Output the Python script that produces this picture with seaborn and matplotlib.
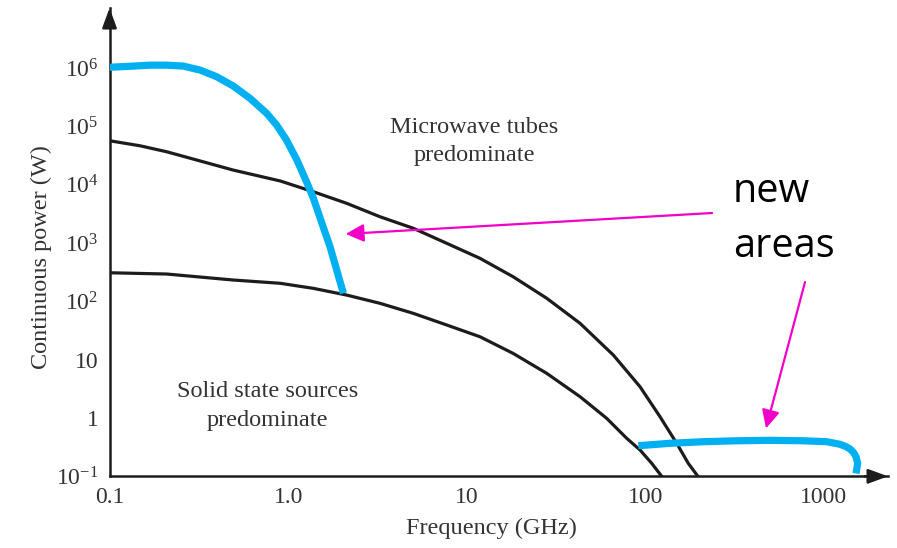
import matplotlib
matplotlib.use("Agg")
import matplotlib.pyplot as plt
import seaborn as sns

# ---- curves (frequency in GHz, power in W) ----
tube_freq = [0.1, 0.148, 0.209, 0.493, 0.902, 1.384, 2.129, 3.27, 5.02, 7.73, 11.87, 18.2,
             28.05, 43.1, 66.2, 93.4, 120.9, 149.9, 174, 197]
tube_power = [5.67e4, 4.65e4, 3.67e4, 1.78e4, 1.16e4, 7.57e3, 4.79e3, 2.82e3, 1.79e3, 988, 546, 264,
              113, 42, 12.0, 3.44, 1.05, 0.368, 0.167, 0.1]

solid_freq = [0.1, 0.209, 0.493, 0.902, 1.384, 2.129, 3.27, 5.02, 7.73, 11.87, 18.2, 28.05,
              43.1, 60.8, 78.7, 93.4, 108.6, 123.6]
solid_power = [309, 294, 232, 204, 167, 128, 92.5, 62.3, 39.3, 24.7, 12.8, 5.83,
               2.32, 0.986, 0.448, 0.283, 0.167, 0.1]

# new area, low frequency / high power
new_low_freq = [0.1, 0.136, 0.169, 0.209, 0.259, 0.321, 0.398, 0.493, 0.612, 0.759,
                0.863, 0.98, 1.12, 1.27, 1.384, 1.57, 1.717, 1.871, 2.04]
new_low_power = [1.03e6, 1.08e6, 1.12e6, 1.12e6, 1.08e6, 9.24e5, 7.1e5, 4.91e5, 3.02e5, 1.67e5,
                 1.05e5, 5.8e4, 2.65e4, 1.11e4, 5.9e3, 1.9e3, 863, 344, 137]

# new area, THz region
new_high_freq = [91.4, 137.5, 211, 325, 499, 767, 1037, 1230, 1318, 1400, 1462, 1513, 1546, 1513]
new_high_power = [0.335, 0.368, 0.392, 0.407, 0.414, 0.407, 0.392, 0.354, 0.327, 0.294, 0.258,
                  0.217, 0.167, 0.112]

x_ticks = [0.1, 1, 10, 100, 1000]
x_tick_labels = ["0.1", "1.0", "10", "100", "1000"]
y_ticks = [0.1, 1, 10, 1e2, 1e3, 1e4, 1e5, 1e6]
y_tick_labels = ["$10^{-1}$", "1", "10", "$10^{2}$", "$10^{3}$", "$10^{4}$", "$10^{5}$", "$10^{6}$"]

# region captions: text, x centre, baseline y
region_text = ["Microwave tubes", "predominate", "Solid state sources", "predominate"]
region_x = [11.0, 11.0, 0.767, 0.767]
region_y = [7.59e4, 2.58e4, 2.32, 0.737]

# "new areas" note and its arrows (tail -> head)
note_text = ["new", "areas"]
note_x = [310, 310]
note_y = [5.1e3, 568]
arrow_tail = [(236.5, 3.27e3), (784, 214)]
arrow_head = [(2.10, 1.43e3), (474, 0.665)]

sns.set_style("white")
plt.rcParams["font.family"] = ["Liberation Serif", "DejaVu Serif"]
plt.rcParams["mathtext.fontset"] = "custom"
plt.rcParams["mathtext.rm"] = "Liberation Serif"
plt.rcParams["mathtext.it"] = "Liberation Serif:italic"

BLUE = "#00b0f0"
INK = "#1c1c1c"
PINK = "#f000c8"
TXT = "#333333"

fig = plt.figure(figsize=(8.97, 5.48), dpi=100)
ax = fig.add_axes([0.1221, 0.1308, 0.8679, 0.8546])
ax.set_xscale("log")
ax.set_yscale("log")
ax.set_xlim(0.1, 2286)
ax.set_ylim(0.1, 1.07e7)

sns.lineplot(x=tube_freq, y=tube_power, ax=ax, sort=False, estimator=None, color=INK, lw=2.3,
             solid_joinstyle="round")
sns.lineplot(x=solid_freq, y=solid_power, ax=ax, sort=False, estimator=None, color=INK, lw=2.3,
             solid_joinstyle="round")
for fx, py in [(new_low_freq, new_low_power), (new_high_freq, new_high_power)]:
    sns.lineplot(x=fx, y=py, ax=ax, sort=False, estimator=None, color=BLUE, lw=5.2,
                 solid_capstyle="butt", solid_joinstyle="round", zorder=3)

# axes: only left/bottom with arrow heads
for s in ["top", "right"]:
    ax.spines[s].set_visible(False)
for s in ["left", "bottom"]:
    ax.spines[s].set_linewidth(1.8)
    ax.spines[s].set_color(INK)
head = "-|>,head_length=0.6,head_width=0.22"
ax.annotate("", xy=(0, 1), xytext=(0, 0.96), xycoords="axes fraction",
            arrowprops=dict(arrowstyle=head, color=INK, lw=1.8, mutation_scale=20,
                            shrinkA=0, shrinkB=0), annotation_clip=False)
ax.annotate("", xy=(1, 0), xytext=(0.97, 0), xycoords="axes fraction",
            arrowprops=dict(arrowstyle=head, color=INK, lw=1.8, mutation_scale=20,
                            shrinkA=0, shrinkB=0), annotation_clip=False)

ax.set_xticks(x_ticks)
ax.set_xticklabels(x_tick_labels)
ax.set_yticks(y_ticks)
ax.set_yticklabels(y_tick_labels)
ax.minorticks_off()
ax.tick_params(direction="in", length=13, width=1.0, color="#555555",
               labelsize=17, labelcolor=TXT, pad=8)

ax.set_xlabel("Frequency (GHz)", fontsize=17.5, color=TXT)
ax.set_ylabel("Continuous power (W)", fontsize=17.5, color=TXT)
ax.xaxis.set_label_coords(0.491, -0.088)
ax.yaxis.set_label_coords(-0.074, 0.468)

for t, x, y in zip(region_text, region_x, region_y):
    ax.text(x, y, t, ha="center", va="baseline", fontsize=17.5, color=TXT)

for t, x, y in zip(note_text, note_x, note_y):
    ax.text(x, y, t, ha="left", va="baseline", fontsize=28.5, color="black",
            family=["Open Sans", "DejaVu Sans"])

for tail, tip in zip(arrow_tail, arrow_head):
    ax.annotate("", xy=tip, xytext=tail,
                arrowprops=dict(arrowstyle="-|>,head_length=0.55,head_width=0.27", color=PINK,
                                lw=1.6, mutation_scale=20, shrinkA=0, shrinkB=0))

fig.savefig("out.png", dpi=100)
